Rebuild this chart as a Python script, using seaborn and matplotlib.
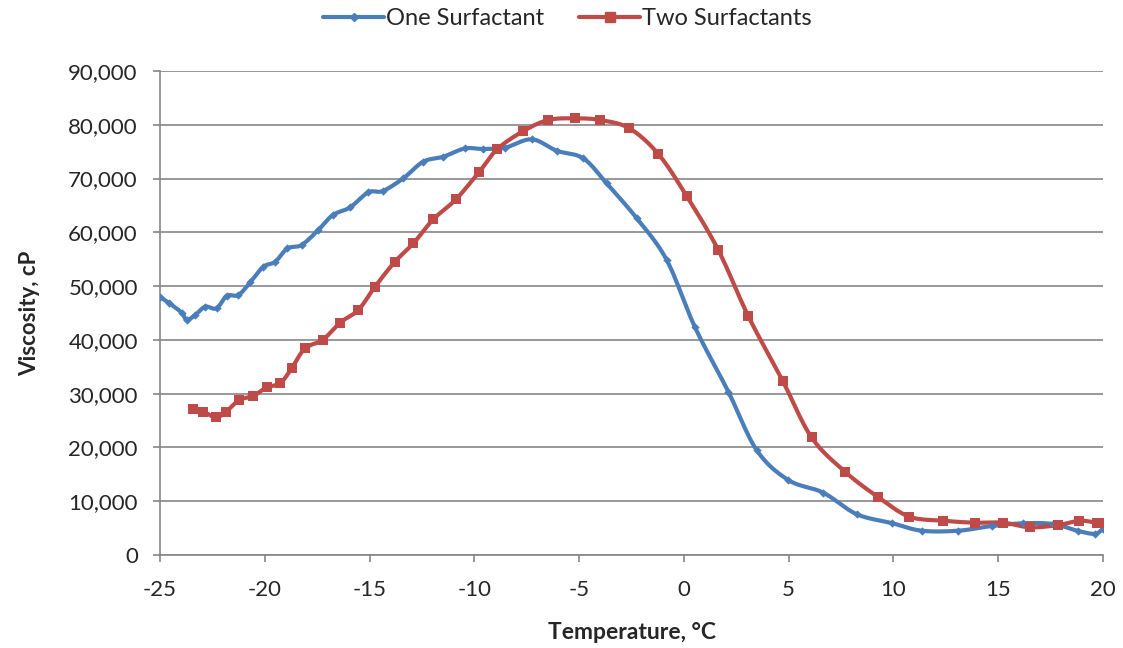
import matplotlib
matplotlib.use('Agg')
import matplotlib.pyplot as plt
import seaborn as sns
import numpy as np
import pandas as pd
from matplotlib.lines import Line2D

# Veriler
one_temp = [-25.0, -24.55, -23.96, -23.73, -23.33, -22.85, -22.3, -21.82, -21.26, -20.7,
            -20.07, -19.51, -18.92, -18.24, -17.45, -16.76, -15.93, -15.06, -14.37, -13.39,
            -12.44, -11.48, -10.45, -9.57, -8.54, -7.26, -6.07, -4.8, -3.69, -2.25,
            -0.82, 0.53, 2.12, 3.47, 4.98, 6.65, 8.24, 9.91, 11.34, 13.1,
            14.69, 16.2, 17.63, 18.82, 19.62, 20.0]
one_visc = [48000, 46800, 45050, 43700, 44600, 46170, 45870, 48200, 48350, 50700,
            53600, 54500, 57000, 57650, 60430, 63200, 64650, 67450, 67690, 70050,
            73140, 74070, 75600, 75500, 75740, 77300, 75180, 73760, 69120, 62610,
            54850, 42340, 30370, 19520, 13950, 11590, 7600, 5950, 4520, 4520,
            5390, 5900, 5760, 4460, 3950, 4900]

two_temp = [-23.41, -22.93, -22.33, -21.85, -21.22, -20.55, -19.91, -19.27, -18.72, -18.08,
            -17.24, -16.41, -15.54, -14.74, -13.79, -12.91, -11.96, -10.88, -9.76, -8.9,
            -7.66, -6.47, -5.2, -4.0, -2.6, -1.22, 0.13, 1.64, 3.07, 4.71,
            6.09, 7.69, 9.28, 10.76, 12.38, 13.89, 15.24, 16.52, 17.87, 18.87,
            19.7, 20.0]
two_visc = [27150, 26650, 25610, 26650, 28820, 29570, 31180, 31920, 34710, 38430,
            39980, 43200, 45560, 49900, 54540, 57960, 62420, 66140, 71280, 75500,
            78840, 80890, 81200, 80890, 79340, 74560, 66760, 56720, 44440, 32410,
            21880, 15490, 10730, 7130, 6380, 6010, 6010, 5150, 5580, 6380,
            6010, 6010]

series_names = ['One Surfactant', 'Two Surfactants']
colors = ['#4A7EBB', '#BE4B48']
markers = ['D', 's']
marker_sizes = [18, 55]

x_ticks = list(range(-25, 21, 5))
y_ticks = list(range(0, 90001, 10000))


def smooth_path(x, y, steps=12):
    """Excel benzeri yumuşatılmış çizgi (Catmull-Rom)."""
    x = np.asarray(x, float)
    y = np.asarray(y, float)
    px = np.concatenate([[x[0]], x, [x[-1]]])
    py = np.concatenate([[y[0]], y, [y[-1]]])
    xs, ys = [], []
    t = np.linspace(0, 1, steps, endpoint=False)
    for i in range(1, len(px) - 2):
        for k, (a0, a1, a2, a3) in enumerate([(px[i - 1], px[i], px[i + 1], px[i + 2]),
                                              (py[i - 1], py[i], py[i + 1], py[i + 2])]):
            v = 0.5 * ((2 * a1) + (-a0 + a2) * t + (2 * a0 - 5 * a1 + 4 * a2 - a3) * t ** 2
                       + (-a0 + 3 * a1 - 3 * a2 + a3) * t ** 3)
            (xs if k == 0 else ys).extend(v)
    xs.append(x[-1])
    ys.append(y[-1])
    return np.array(xs), np.array(ys)


sns.set_style('white')
plt.rcParams['font.family'] = ['Lato', 'DejaVu Sans']

fig = plt.figure(figsize=(11.23, 6.48), dpi=100)
ax = fig.add_axes([0.1425, 0.1435, 0.8397, 0.7469])

data = [(one_temp, one_visc), (two_temp, two_visc)]
handles = []
for (tx, vy), name, c, m, ms in zip(data, series_names, colors, markers, marker_sizes):
    sx, sy = smooth_path(tx, vy)
    line_df = pd.DataFrame({'t': sx, 'v': sy})
    sns.lineplot(data=line_df, x='t', y='v', ax=ax, color=c, linewidth=3.0,
                 sort=False, estimator=None, zorder=3)
    pt_df = pd.DataFrame({'t': tx, 'v': vy})
    sns.scatterplot(data=pt_df, x='t', y='v', ax=ax, color=c, marker=m, s=ms,
                    linewidth=0, zorder=4)
    handles.append(Line2D([0], [0], color=c, lw=3.0, marker=m,
                          markersize=4 if m == 'D' else 7, label=name))

ax.set_xlim(-25, 20)
ax.set_ylim(0, 90000)
ax.set_xticks(x_ticks)
ax.set_yticks(y_ticks)
ax.set_yticklabels([f'{v:,}' for v in y_ticks])
ax.set_xticklabels([str(v) for v in x_ticks])
ax.yaxis.grid(True, color='#868686', linewidth=1.2)
ax.set_axisbelow(True)

for s in ['top', 'right']:
    ax.spines[s].set_visible(False)
for s in ['left', 'bottom']:
    ax.spines[s].set_color('#868686')
    ax.spines[s].set_linewidth(1.2)

ax.tick_params(axis='both', which='major', labelsize=16, length=5, width=1.2,
               color='#868686', direction='out', bottom=True, left=True)
ax.tick_params(axis='x', pad=13)
ax.tick_params(axis='y', pad=11)

ax.set_xlabel('Temperature, °C', fontsize=16.5, fontweight='bold', labelpad=16)
ax.set_ylabel('Viscosity, cP', fontsize=16, fontweight='bold', labelpad=20)

fig.legend(handles=handles, loc='upper center', bbox_to_anchor=(0.505, 1.02), ncol=2,
           frameon=False, fontsize=17, handlelength=2.6, columnspacing=1.5, handletextpad=0.05)

plt.savefig('out.png', dpi=100)
